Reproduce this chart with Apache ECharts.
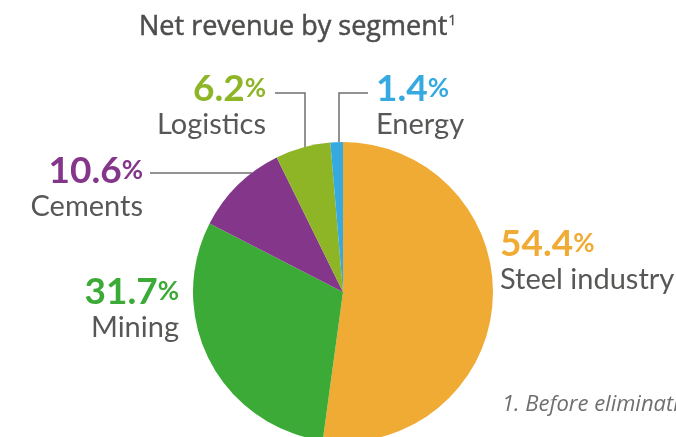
<!DOCTYPE html>
<html>
<head>
<meta charset="utf-8">
<script src="https://cdn.jsdelivr.net/npm/echarts@6/dist/echarts.min.js"></script>
<style>
  html, body { margin: 0; padding: 0; background: #fff; }
  #chart { width: 676px; height: 437px; }
</style>
</head>
<body>
<div id="chart"></div>
<script>
// segment data, clockwise from 12 o'clock
const segments = ['Steel industry', 'Mining', 'Cements', 'Logistics', 'Energy'];
const shares = [54.4, 31.7, 10.6, 6.2, 1.4];
const colors = ['#EFAB33', '#3CAA36', '#84368B', '#8DB526', '#36A9E1'];

// where each label sits and its leader line (label annotations only)
const labelSpots = [
    { x: 500, y: 225, align: 'left' },
    { x: 179, y: 273, align: 'right' },
    { x: 143, y: 152, align: 'right' },
    { x: 266, y: 70, align: 'right' },
    { x: 376, y: 70, align: 'left' }
];
const leaderLines = [
    null,
    null,
    [[252, 173], [200, 173], [150, 173]],
    [[305, 147], [305, 93], [275, 93]],
    [[339, 142], [339, 93], [368, 93]]
];

document.addEventListener('DOMContentLoaded', function () {
    const chart = echarts.init(document.getElementById('chart'), null, { renderer: 'canvas' });

    const rich = {
        n: { fontFamily: 'Lato', fontSize: 29, color: '#575756', lineHeight: 34 }
    };
    colors.forEach((c, i) => {
        rich['v' + i] = { fontFamily: 'Lato', fontWeight: 'bold', fontSize: 37, color: c, lineHeight: 38 };
        rich['p' + i] = { fontFamily: 'Lato', fontWeight: 'bold', fontSize: 26, color: c, lineHeight: 38 };
    });

    const data = segments.map((name, i) => ({
        name: name,
        value: shares[i],
        itemStyle: { color: colors[i] },
        labelLine: { show: leaderLines[i] !== null }
    }));

    const option = {
        animation: false,
        title: {
            text: '{a|Net revenue by segment}{s|1}',
            left: 134,
            top: 9,
            textStyle: {
                fontWeight: 'normal',
                rich: {
                    a: {
                        fontFamily: 'Open Sans', fontSize: 27, fontWeight: 'normal', color: '#4d4d4c',
                        textBorderColor: '#4d4d4c', textBorderWidth: 0.5
                    },
                    s: {
                        fontFamily: 'Open Sans', fontSize: 14, fontWeight: 'normal', color: '#4d4d4c',
                        textBorderColor: '#4d4d4c', textBorderWidth: 0.3,
                        verticalAlign: 'top', padding: [0, 0, 12, 1]
                    }
                }
            }
        },
        graphic: [{
            type: 'text',
            left: 502,
            top: 394,
            style: {
                text: '1. Before eliminations',
                font: 'italic 22px "Open Sans"',
                fill: '#6f6f6e'
            }
        }],
        series: [{
            type: 'pie',
            center: [343, 292],
            radius: 150,
            startAngle: 90,
            clockwise: true,
            avoidLabelOverlap: false,
            emphasis: { disabled: true },
            label: {
                show: true,
                position: 'outside',
                formatter: function (p) {
                    const i = p.dataIndex;
                    return '{v' + i + '|' + shares[i].toFixed(1) + '}{p' + i + '|%}\n{n|' + p.name + '}';
                },
                rich: rich
            },
            labelLine: {
                show: true,
                lineStyle: { color: '#6f6f6e', width: 1.5 }
            },
            labelLayout: function (params) {
                const s = labelSpots[params.dataIndex];
                const out = { x: s.x, y: s.y, align: s.align, verticalAlign: 'top' };
                if (leaderLines[params.dataIndex]) {
                    out.labelLinePoints = leaderLines[params.dataIndex];
                }
                return out;
            },
            data: data
        }]
    };

    chart.setOption(option);
});
</script>
</body>
</html>
